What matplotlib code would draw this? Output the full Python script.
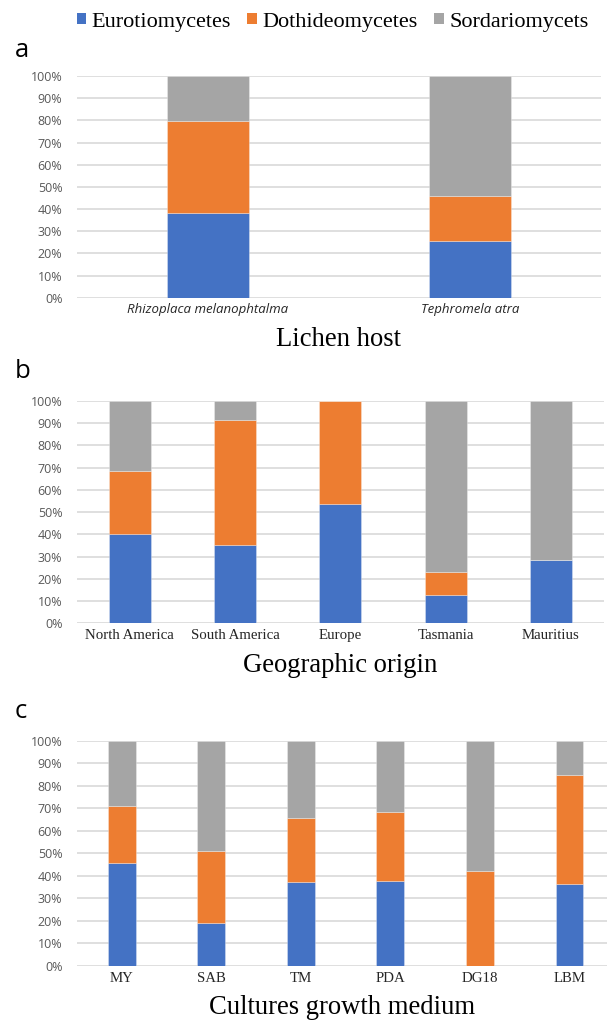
import matplotlib
matplotlib.use("Agg")
import matplotlib.pyplot as plt
from matplotlib.patches import Patch
from matplotlib import font_manager as fm

# ---------------- data ----------------
series_names = ["Eurotiomycetes", "Dothideomycetes", "Sordariomycets"]
colors = ["#4472C4", "#ED7D31", "#A5A5A5"]

hosts = ["Rhizoplaca melanophtalma", "Tephromela atra"]
host_euro = [38.0, 25.6]
host_dothi = [41.5, 20.4]
host_sorda = [20.5, 54.0]

origins = ["North America", "South America", "Europe", "Tasmania", "Mauritius"]
orig_euro = [40.3, 35.1, 53.5, 12.7, 28.5]
orig_dothi = [28.4, 56.4, 46.5, 10.5, 0.0]
orig_sorda = [31.3, 8.5, 0.0, 76.8, 71.5]

media = ["MY", "SAB", "TM", "PDA", "DG18", "LBM"]
med_euro = [45.6, 19.2, 37.1, 37.6, 0.0, 36.2]
med_dothi = [25.4, 32.0, 28.7, 30.7, 42.2, 48.6]
med_sorda = [29.0, 48.8, 34.2, 31.7, 57.8, 15.2]

yticks = list(range(0, 101, 10))
ytick_labels = [f"{v}%" for v in yticks]

# ---------------- fonts ----------------
SERIF = "Liberation Serif"
SANS = "Open Sans"
italic_family = "DejaVu Sans"
for fam in ["Open Sans", "Noto Sans", "Lato", "Roboto", "Liberation Sans"]:
    found = [f for f in fm.fontManager.ttflist if f.name == fam and f.style == "italic"]
    if found:
        italic_family = fam
        break

W, H = 607, 1022
fig = plt.figure(figsize=(W / 100, H / 100), dpi=100)

def px_rect(left, top, right, bottom):
    return [left / W, 1 - bottom / H, (right - left) / W, (bottom - top) / H]

def draw_panel(ax, cats, e, d, s, width, xlim, tick_font):
    x = list(range(len(cats)))
    bottoms2 = [a + b for a, b in zip(e, d)]
    kw = dict(zorder=3, edgecolor=(1, 1, 1, 0.35), linewidth=0.6)
    ax.bar(x, e, width, color=colors[0], **kw)
    ax.bar(x, d, width, bottom=e, color=colors[1], **kw)
    ax.bar(x, s, width, bottom=bottoms2, color=colors[2], **kw)
    ax.set_ylim(0, 100)
    ax.set_xlim(*xlim)
    ax.set_yticks(yticks)
    ax.set_yticklabels(ytick_labels, fontfamily=SANS, fontsize=9, color="#595959")
    ax.set_xticks(x)
    ax.set_xticklabels(cats, **tick_font)
    ax.tick_params(axis="both", length=0)
    ax.tick_params(axis="y", pad=10.5)
    ax.tick_params(axis="x", pad=4)
    ax.yaxis.grid(True, color="#D9D9D9", linewidth=1.2, zorder=0)
    ax.set_axisbelow(True)
    for sp in ax.spines.values():
        sp.set_visible(False)

# panel a
ax_a = fig.add_axes(px_rect(77, 76, 601, 297.7))
draw_panel(ax_a, hosts, host_euro, host_dothi, host_sorda, 0.31, (-0.5, 1.5),
           dict(fontfamily=italic_family, fontstyle="italic", fontsize=9.5, color="#262626"))

# panel b
ax_b = fig.add_axes(px_rect(77, 401, 603.6, 623.3))
draw_panel(ax_b, origins, orig_euro, orig_dothi, orig_sorda, 0.40, (-0.5, 4.5),
           dict(fontfamily=SERIF, fontsize=10.7, color="#262626"))

# panel c
ax_c = fig.add_axes(px_rect(77, 740.7, 607, 966))
draw_panel(ax_c, media, med_euro, med_dothi, med_sorda, 0.31, (-0.5, 5.42),
           dict(fontfamily=SERIF, fontsize=10.7, color="#262626"))

# axis titles
fig.text((77 + 601) / 2 / W, 1 - 346 / H, "Lichen host", family=SERIF, fontsize=19.2,
         ha="center", va="baseline")
fig.text((77 + 603.6) / 2 / W, 1 - 672 / H, "Geographic origin", family=SERIF, fontsize=19.2,
         ha="center", va="baseline")
fig.text((77 + 607) / 2 / W, 1 - 1014 / H, "Cultures growth medium", family=SERIF, fontsize=19.2,
         ha="center", va="baseline")

# panel letters
for letter, base in [("a", 57), ("b", 378), ("c", 718)]:
    fig.text(14.5 / W, 1 - base / H, letter, family=SANS, fontsize=18.5, ha="left", va="baseline")

# legend
handles = [Patch(facecolor=c, edgecolor="none") for c in colors]
fig.legend(handles, series_names, loc="center", bbox_to_anchor=(332.5 / W, 1 - 22 / H),
           ncol=3, frameon=False, prop={"family": SERIF, "size": 16},
           handlelength=0.42, handleheight=0.42, handletextpad=0.25,
           columnspacing=0.75, borderpad=0, borderaxespad=0)

fig.savefig("out.png", dpi=100)
